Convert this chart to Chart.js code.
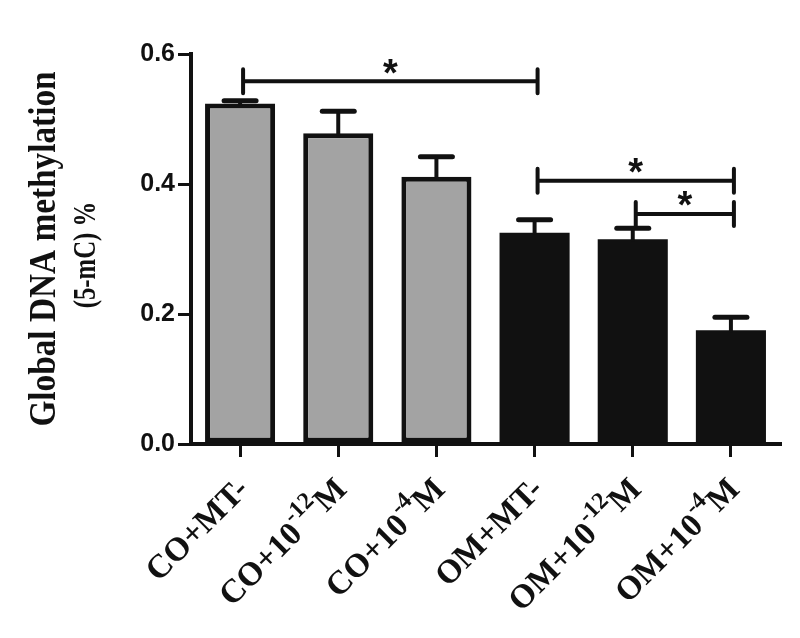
<!DOCTYPE html>
<html><head><meta charset="utf-8">
<script src="https://cdn.jsdelivr.net/npm/chart.js@4/dist/chart.umd.min.js"></script>
<style>html,body{margin:0;padding:0;background:#fff;}</style>
</head><body>
<canvas id="c" width="800" height="638"></canvas>
<script>
// ---- data ----
const categories = ['CO+MT-', 'CO+10⁻¹²M', 'CO+10⁻⁴M', 'OM+MT-', 'OM+10⁻¹²M', 'OM+10⁻⁴M'];
const groups = ['CO', 'CO', 'CO', 'OM', 'OM', 'OM'];
const methylation = [0.524, 0.478, 0.411, 0.325, 0.315, 0.175];
const errorSEM = [0.004, 0.034, 0.031, 0.020, 0.017, 0.020];
const yTickLabels = ['0.0', '0.2', '0.4', '0.6'];
const yTitleLines = ['Global DNA methylation', '(5-mC) %'];
const bracketFrom = [0, 3, 4];
const bracketTo = [3, 5, 5];
const bracketLevel = [0.558, 0.405, 0.354];
const bracketMark = ['*', '*', '*'];

// ---- styles ----
const INK = '#111111';
const groupFill = { CO: '#a3a3a3', OM: '#111111' };
const groupBorder = { CO: 5, OM: 0 };
const SERIF = '"Liberation Serif", "Times New Roman", serif';
const SANS = '"Liberation Sans", Arial, sans-serif';
const SUP = { '⁻': '-', '⁰': '0', '¹': '1', '²': '2', '³': '3', '⁴': '4', '⁵': '5', '⁶': '6', '⁷': '7', '⁸': '8', '⁹': '9' };

function splitSup(s) {
  const segs = [];
  for (const ch of s) {
    const sup = ch in SUP;
    const c = sup ? SUP[ch] : ch;
    if (segs.length && segs[segs.length - 1].sup === sup) segs[segs.length - 1].t += c;
    else segs.push({ t: c, sup });
  }
  return segs;
}

const decor = {
  id: 'decor',
  afterDatasetsDraw(chart) {
    const ctx = chart.ctx, ys = chart.scales.y;
    const bars = chart.getDatasetMeta(0).data;
    ctx.save();
    ctx.strokeStyle = INK;
    // error bars (upper)
    bars.forEach((b, i) => {
      const yc = ys.getPixelForValue(methylation[i] + errorSEM[i]);
      ctx.lineWidth = 4; ctx.lineCap = 'butt';
      ctx.beginPath(); ctx.moveTo(b.x, b.y + 2); ctx.lineTo(b.x, yc); ctx.stroke();
      ctx.lineWidth = 5; ctx.lineCap = 'round';
      ctx.beginPath(); ctx.moveTo(b.x - 16, yc); ctx.lineTo(b.x + 16, yc); ctx.stroke();
    });
    // significance brackets
    ctx.fillStyle = INK;
    ctx.font = 'bold 38px ' + SANS;
    ctx.textAlign = 'center'; ctx.textBaseline = 'alphabetic';
    const m = ctx.measureText('*');
    const starMid = (m.actualBoundingBoxAscent - m.actualBoundingBoxDescent) / 2;
    bracketFrom.forEach((f, k) => {
      const x1 = bars[f].x + 3, x2 = bars[bracketTo[k]].x + 3;
      const yb = ys.getPixelForValue(bracketLevel[k]);
      ctx.lineWidth = 4; ctx.lineCap = 'round';
      ctx.beginPath();
      ctx.moveTo(x1, yb); ctx.lineTo(x2, yb);
      ctx.moveTo(x1, yb - 12); ctx.lineTo(x1, yb + 12);
      ctx.moveTo(x2, yb - 12); ctx.lineTo(x2, yb + 12);
      ctx.stroke();
      ctx.fillText(bracketMark[k], (x1 + x2) / 2, yb - 15 + starMid);
    });
    ctx.restore();
  },
  afterDraw(chart) {
    const ctx = chart.ctx, area = chart.chartArea;
    const bars = chart.getDatasetMeta(0).data;
    ctx.save();
    ctx.fillStyle = INK;
    // rotated category labels with superscripts
    const F = 33, SF = 24, RISE = 16;
    categories.forEach((lab, i) => {
      const segs = splitSup(lab);
      let total = 0;
      segs.forEach(s => {
        ctx.font = 'bold ' + (s.sup ? SF : F) + 'px ' + SERIF;
        s.w = ctx.measureText(s.t).width; total += s.w;
      });
      ctx.save();
      ctx.translate(bars[i].x + 10, area.bottom + 47);
      ctx.rotate(-Math.PI / 4);
      ctx.textAlign = 'left'; ctx.textBaseline = 'alphabetic';
      let pos = -total;
      segs.forEach(s => {
        ctx.font = 'bold ' + (s.sup ? SF : F) + 'px ' + SERIF;
        ctx.fillText(s.t, pos, s.sup ? -RISE : 0);
        pos += s.w;
      });
      ctx.restore();
    });
    // y-axis title (two lines), slightly condensed along the text direction
    const cy = (area.top + area.bottom) / 2;
    const titleSpec = [[55, 37, 0.9, 0], [95, 31, 0.8, 6]];
    yTitleLines.forEach((t, j) => {
      const [tx, size, squeeze, dy] = titleSpec[j];
      ctx.save();
      ctx.translate(tx, cy + dy);
      ctx.rotate(-Math.PI / 2);
      ctx.scale(squeeze, 1);
      ctx.textAlign = 'center'; ctx.textBaseline = 'alphabetic';
      ctx.font = 'bold ' + size + 'px ' + SERIF;
      ctx.fillText(t, 0, 0);
      ctx.restore();
    });
    ctx.restore();
  }
};

new Chart(document.getElementById('c'), {
  type: 'bar',
  data: {
    labels: categories,
    datasets: [{
      data: methylation,
      backgroundColor: ctx => groupFill[groups[ctx.dataIndex]],
      borderColor: INK,
      borderWidth: ctx => groupBorder[groups[ctx.dataIndex]],
      borderSkipped: false,
      barPercentage: 0.714,
      categoryPercentage: 1
    }]
  },
  options: {
    responsive: false,
    animation: false,
    devicePixelRatio: 1,
    layout: { padding: { top: 54, right: 20, left: 0, bottom: 0 } },
    plugins: { legend: { display: false }, tooltip: { enabled: false } },
    scales: {
      x: {
        offset: true,
        grid: { display: true, offset: false, drawOnChartArea: false, drawTicks: true, tickLength: 13, color: INK, lineWidth: 3 },
        border: { display: true, color: INK, width: 4 },
        ticks: { display: false },
        afterFit: s => { s.height = 638 - 444; }
      },
      y: {
        min: 0, max: 0.6,
        ticks: {
          stepSize: 0.2, color: INK, padding: 3,
          font: { family: SANS, weight: 'bold', size: 25 },
          callback: (v, i) => yTickLabels[i]
        },
        grid: { drawOnChartArea: false, tickLength: 13, color: INK, lineWidth: 3 },
        border: { display: true, color: INK, width: 4 },
        afterFit: s => { s.width = 191; }
      }
    }
  },
  plugins: [decor]
});
</script>
</body></html>
